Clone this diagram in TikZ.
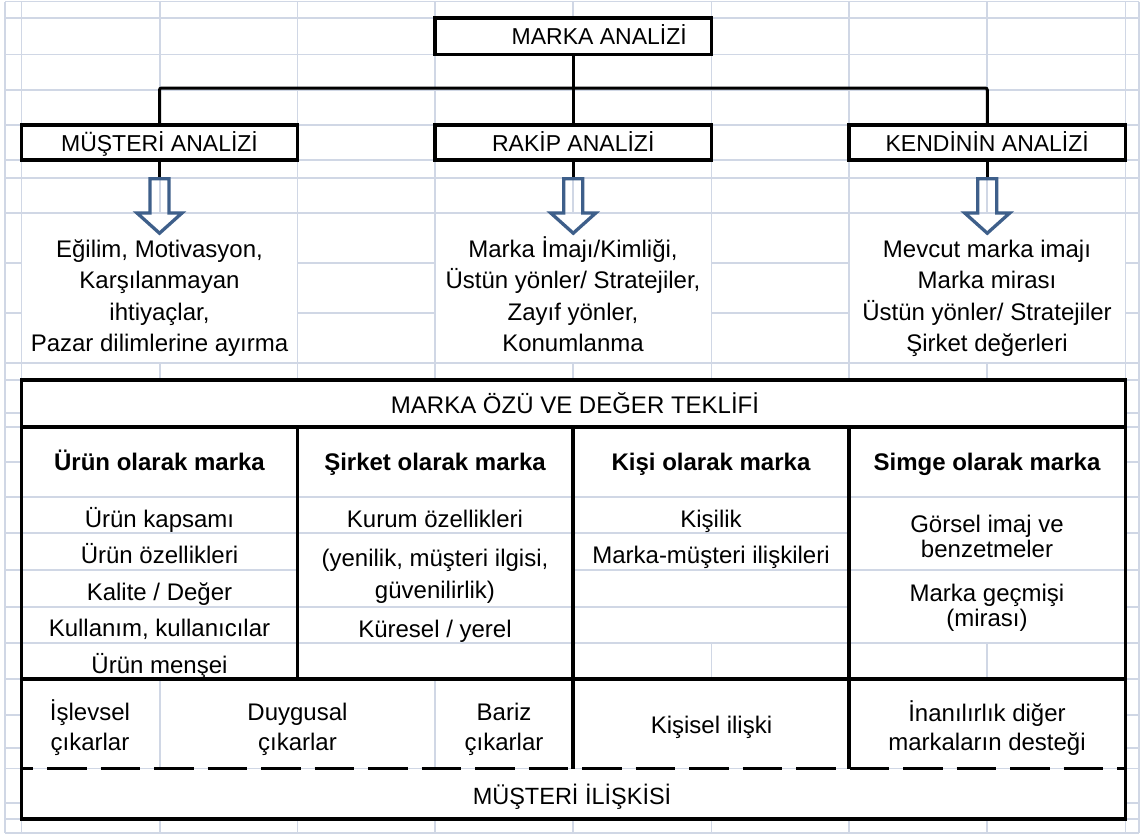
\documentclass[tikz,border=0pt]{standalone}
\usepackage{fontspec}
\setmainfont{Liberation Sans}
\definecolor{gridc}{HTML}{D0D7E5}
\definecolor{arrowc}{HTML}{3E5F8A}
% centred multi-line cell text whose baseline is that of its first line
\newcommand{\celltext}[1]{\begin{tabular}[t]{@{}c@{}}#1\end{tabular}}

\begin{document}
\begin{tikzpicture}[x=1pt,y=-1pt,
  gridline/.style={gridc, line width=1.6pt},
  frame/.style={line width=3.2pt},
  conn/.style={line width=3pt},
  dashline/.style={line width=2.6pt, dash pattern=on 39.5pt off 14pt, dash phase=27.8pt},
  box/.style={draw, line width=3.2pt, minimum width=276.5pt, minimum height=35pt,
    inner sep=0pt, text height=17pt, text depth=0pt, font=\fontsize{23}{28}\selectfont},
  txt/.style={inner sep=0pt, anchor=base, font=\fontsize{24}{31.6}\selectfont},
  head/.style={inner sep=0pt, anchor=base, font=\fontsize{24}{30}\selectfont\bfseries},
  arrowshape/.style={draw=arrowc, line width=3.3pt, line join=miter},
  blockdown/.pic={\draw[arrowshape] (-9.5,0) -- (-9.5,34.3) -- (-22.5,34.3) -- (0,54.5)
    -- (22.5,34.3) -- (9.5,34.3) -- (9.5,0) -- cycle;}
]
\useasboundingbox (0,0) rectangle (1144,835);
\fill[white] (0,0) rectangle (1144,835);

% worksheet grid
\foreach \x in {5,21.5,160,297.5,435,573,711.5,849,987,1125.5,1139}
  \draw[gridline] (\x,1.5) -- (\x,833);
\foreach \y in {1.5,18,54.5,90,125,160,178,213,263,313,363,380,413,427,462,497,533,570,607,643,679,715,748,768.5,803,819,833}
  \draw[gridline] (5,\y) -- (1139,\y);

% merged cells hide the grid inside them
\foreach \a/\b/\c/\d in {
  435/18/711.5/54.5,
  21.5/125/297.5/160, 435/125/711.5/160, 849/125/1125.5/160,
  21.5/213/297.5/363, 435/213/711.5/363, 849/213/1125.5/363,
  21.5/380/1125.5/427,
  21.5/427/297.5/497, 297.5/427/573/497, 573/427/849/497, 849/427/1125.5/497,
  21.5/497/297.5/533, 21.5/533/297.5/570, 21.5/570/297.5/607, 21.5/607/297.5/643, 21.5/643/297.5/679,
  297.5/497/573/533, 297.5/533/573/607, 297.5/607/573/643, 297.5/643/573/679,
  573/497/849/533, 573/533/849/570, 573/570/849/607, 573/607/849/643,
  849/497/1125.5/570, 849/570/1125.5/643,
  21.5/679/160/768.5, 160/679/435/768.5, 435/679/573/768.5, 573/679/849/768.5, 849/679/1125.5/768.5,
  21.5/768.5/1125.5/819}
  \fill[white] (\a+0.9,\b+0.9) rectangle (\c-0.9,\d-0.9);

% analysis boxes
\node[box, minimum height=36.5pt] (top) at (573.25,36.25) {\hspace*{52pt}MARKA ANALİZİ};
\node[box, minimum width=276pt] (cust) at (159.5,142.5) {MÜŞTERİ ANALİZİ};
\node[box] (comp) at (573.25,142.5) {RAKİP ANALİZİ};
\node[box] (self) at (987.25,142.5) {KENDİNİN ANALİZİ};

% tree connectors
\coordinate (hub) at (573.25,88);
\draw[conn] (top.south) -- (hub);
\draw[conn, rounded corners=2pt] (cust.north) |- (hub) -| (self.north);
\draw[conn] (hub) -- (comp.north);

% block arrows under the boxes
\coordinate (a1) at (159.5,178.7);
\coordinate (a2) at (573.25,178.7);
\coordinate (a3) at (987.25,178.7);
\draw[conn] (cust.south) -- (a1);
\draw[conn] (comp.south) -- (a2);
\draw[conn] (self.south) -- (a3);
\pic at (a1) {blockdown};
\pic at (a2) {blockdown};
\pic at (a3) {blockdown};

% analysis results
\node[txt] (needs) at (159.5,257) {\celltext{Eğilim, Motivasyon,\\Karşılanmayan\\ihtiyaçlar,\\Pazar dilimlerine ayırma}};
\node[txt] (rival) at (573,257) {\celltext{Marka İmajı/Kimliği,\\Üstün yönler/ Stratejiler,\\Zayıf yönler,\\Konumlanma}};
\node[txt] (own) at (987,257) {\celltext{Mevcut marka imajı\\Marka mirası\\Üstün yönler/ Stratejiler\\Şirket değerleri}};

% value proposition table
\draw[frame] (21.5,380) rectangle (1125.5,819);
\draw[frame] (21.5,427) -- (1125.5,427);
\draw[frame] (21.5,679) -- (1125.5,679);
\draw[frame] (297.5,427) -- (297.5,679);
\draw[frame] (573,427) -- (573,768.5);
\draw[frame] (849,427) -- (849,768.5);
\draw[dashline] (21.5,768.5) -- (1125.5,768.5);

\node[txt] (core) at (575,413) {MARKA ÖZÜ VE DEĞER TEKLİFİ};

\node[head] (h1) at (159.5,470) {Ürün olarak marka};
\node[head] (h2) at (435,470) {Şirket olarak marka};
\node[head] (h3) at (711,470) {Kişi olarak marka};
\node[head] (h4) at (987,470) {Simge olarak marka};

\node[txt, font=\fontsize{24}{36.5}\selectfont] (c1) at (159.5,527)
  {\celltext{Ürün kapsamı\\Ürün özellikleri\\Kalite / Değer\\Kullanım, kullanıcılar\\Ürün menşei}};
\node[txt] (c2a) at (435,527) {Kurum özellikleri};
\node[txt, font=\fontsize{24}{32}\selectfont] (c2b) at (435,566.5) {\celltext{(yenilik, müşteri ilgisi,\\güvenilirlik)}};
\node[txt] (c2c) at (435,637) {Küresel / yerel};
\node[txt, font=\fontsize{24}{36.5}\selectfont] (c3) at (711,527) {\celltext{Kişilik\\Marka-müşteri ilişkileri}};
\node[txt, font=\fontsize{24}{25}\selectfont] (c4a) at (987,532) {\celltext{Görsel imaj ve\\benzetmeler}};
\node[txt, font=\fontsize{24}{25}\selectfont] (c4b) at (987,601) {\celltext{Marka geçmişi\\(mirası)}};

\node[txt, font=\fontsize{24}{30}\selectfont] (b1) at (90,720) {\celltext{İşlevsel\\çıkarlar}};
\node[txt, font=\fontsize{24}{30}\selectfont] (b2) at (297.5,720) {\celltext{Duygusal\\çıkarlar}};
\node[txt, font=\fontsize{24}{30}\selectfont] (b3) at (504,720) {\celltext{Bariz\\çıkarlar}};
\node[txt] (b4) at (711.5,733) {Kişisel ilişki};
\node[txt, font=\fontsize{24}{29}\selectfont] (b5) at (987,721) {\celltext{İnanılırlık diğer\\markaların desteği}};

\node[txt, font=\fontsize{23.5}{28}\selectfont] (rel) at (572,804) {MÜŞTERİ İLİŞKİSİ};
\end{tikzpicture}
\end{document}
